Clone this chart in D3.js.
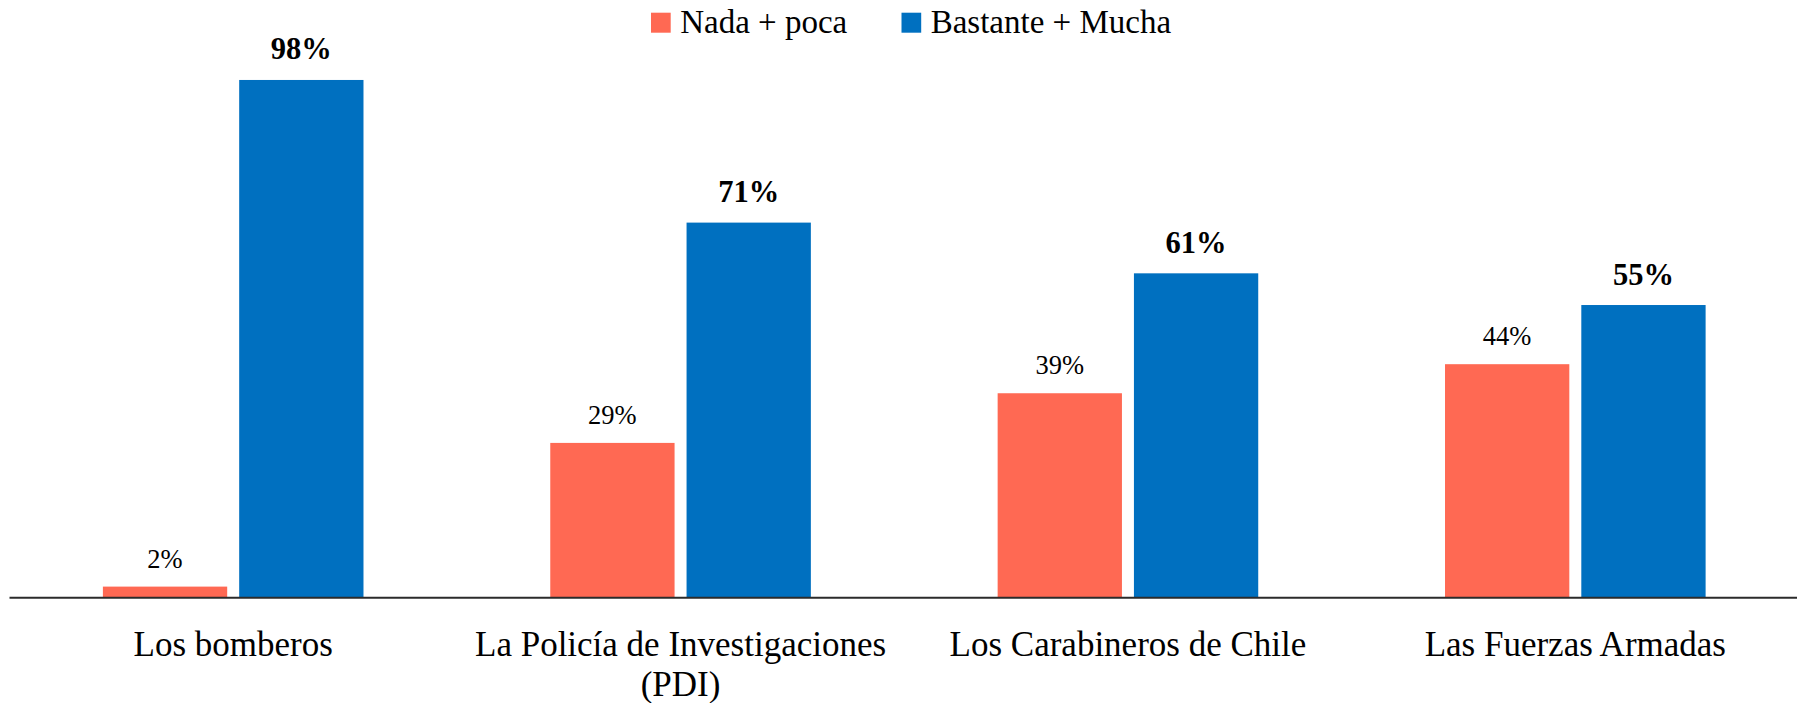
<!DOCTYPE html>
<html>
<head>
<meta charset="utf-8">
<script src="https://cdn.jsdelivr.net/npm/d3@7"></script>
<style>
  html, body { margin: 0; padding: 0; background: #fff; }
  svg { display: block; font-family: "Liberation Serif", "Times New Roman", serif; }
</style>
</head>
<body>
<svg id="chart" width="1797" height="703"></svg>
<script>
const categories = ["Los bomberos", "La Policía de Investigaciones\n(PDI)", "Los Carabineros de Chile", "Las Fuerzas Armadas"];
const seriesNames = ["Nada + poca", "Bastante + Mucha"];
const nadaPoca = [2.1, 29.3, 38.7, 44.2];
const bastanteMucha = [98.0, 71.0, 61.4, 55.4];
const colors = ["#FF6953", "#0070C0"];

const W = 1797, H = 703;
const baseY = 597.7;
const svg = d3.select("#chart");

const x0 = d3.scaleBand().domain(categories).range([9.5, 1799]).paddingInner(0.4175).paddingOuter(0.20875);
const x1 = d3.scaleBand().domain(seriesNames).range([0, x0.bandwidth()]).paddingInner(0.088);
const y = d3.scaleLinear().domain([0, 100]).range([baseY, baseY - 528.3]);

const rows = categories.map((c, i) => ({ cat: c, vals: [nadaPoca[i], bastanteMucha[i]] }));

const g = svg.selectAll("g.grp").data(rows).join("g")
  .attr("class", "grp")
  .attr("transform", d => `translate(${x0(d.cat)},0)`);

g.selectAll("rect").data(d => d.vals.map((v, j) => ({ s: seriesNames[j], v, j }))).join("rect")
  .attr("x", d => x1(d.s))
  .attr("y", d => y(d.v))
  .attr("width", x1.bandwidth())
  .attr("height", d => y(0) - y(d.v))
  .attr("fill", d => colors[d.j]);

g.selectAll("text.val").data(d => d.vals.map((v, j) => ({ s: seriesNames[j], v, j }))).join("text")
  .attr("class", "val")
  .attr("x", d => x1(d.s) + x1.bandwidth() / 2)
  .attr("y", d => y(d.v) - (d.j === 1 ? 20.5 : 19))
  .attr("text-anchor", "middle")
  .attr("font-size", d => d.j === 1 ? 30.5 : 26.5)
  .attr("font-weight", d => d.j === 1 ? "bold" : "normal")
  .attr("fill", "#000")
  .text(d => Math.round(d.v) + "%");

// axis
const xAxis = d3.axisBottom(x0).tickSize(0).tickFormat("");
const ax = svg.append("g").attr("transform", `translate(0,${baseY})`).call(xAxis);
ax.select(".domain").attr("stroke", "#2b2b2b").attr("stroke-width", 2).attr("d", `M9.5,0H${W}`);

// category labels
svg.append("g").selectAll("text").data(categories).join("text")
  .attr("x", d => x0(d) + x0.bandwidth() / 2)
  .attr("y", baseY + 58.3)
  .attr("text-anchor", "middle")
  .attr("font-size", 35)
  .attr("fill", "#000")
  .each(function(d) {
    const lines = d.split("\n");
    d3.select(this).selectAll("tspan").data(lines).join("tspan")
      .attr("x", x0(d) + x0.bandwidth() / 2)
      .attr("dy", (l, i) => i === 0 ? 0 : 40)
      .text(l => l);
  });

// legend
const legendX = [651, 901.5];
const lg = svg.append("g").selectAll("g").data(seriesNames).join("g")
  .attr("transform", (d, i) => `translate(${legendX[i]},0)`);
lg.append("rect").attr("x", 0).attr("y", 12.7).attr("width", 19.7).attr("height", 20).attr("fill", (d, i) => colors[i]);
lg.append("text").attr("x", 29.2).attr("y", 32.7).attr("font-size", 33).attr("fill", "#000").text(d => d);
</script>
</body>
</html>
